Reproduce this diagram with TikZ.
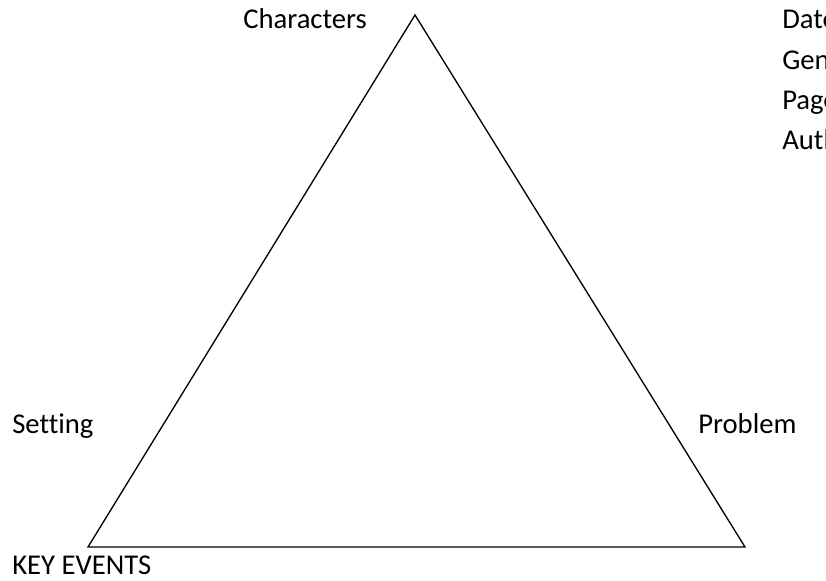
\documentclass[tikz,border=0pt]{standalone}
\usepackage{fontspec}
\setmainfont[Ligatures=NoCommon]{Carlito}
\begin{document}
\begin{tikzpicture}[x=0.75pt,y=-0.75pt,
  lbl/.style={anchor=base west,inner sep=0pt,font=\fontsize{21.5pt}{25pt}\selectfont},
  edge/.style={draw=black,line width=1pt,line join=miter}]
\useasboundingbox (0,0) rectangle (826,581);
\clip (0,0) rectangle (826,581);
\coordinate (apex) at (415,15);
\coordinate (bl) at (88,547);
\coordinate (br) at (745,547);
\draw[edge] (apex) -- (br) -- (bl) -- cycle;
\node[lbl] (characters) at (243,29) {Characters};
\node[lbl] (date) at (782,29) {Date};
\node[lbl] (genre) at (782,70) {Genre};
\node[lbl] (pages) at (782,110) {Pages};
\node[lbl] (author) at (782,150) {Author};
\node[lbl] (setting) at (12,434) {Setting};
\node[lbl] (problem) at (698,434) {Problem};
\node[lbl] (keyevents) at (12,574) {KEY EVENTS};
\end{tikzpicture}
\end{document}
